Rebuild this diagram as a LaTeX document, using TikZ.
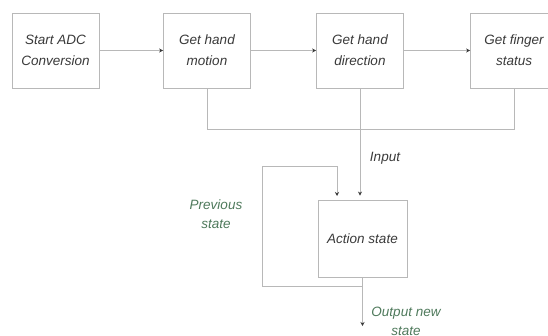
\documentclass[tikz,border=0pt]{standalone}
\usepackage{fontspec}
\setmainfont{Liberation Sans}
\usetikzlibrary{arrows.meta}
\definecolor{txt}{HTML}{3A3A3A}
\definecolor{grn}{HTML}{4F7A5C}
\definecolor{ln}{HTML}{B8B8B8}
\begin{document}
\begin{tikzpicture}[x=1pt,y=-1pt,
  box/.style={draw=ln, line width=0.8pt, minimum width=87pt, minimum height=75pt,
    align=center, font=\fontsize{13.5}{21}\selectfont\itshape, text=txt, inner sep=0pt},
  lbl/.style={align=center, font=\fontsize{13.5}{19}\selectfont\itshape, text=txt, inner sep=0pt},
  glbl/.style={lbl, text=grn},
  wire/.style={draw=ln, line width=0.8pt},
  conn/.style={wire, -{Stealth[length=4pt,width=4pt,color=txt]}}]
\clip (0,0) rectangle (548,335);
\fill[white] (0,0) rectangle (548,335);
\node[box] (b1) at (55.5,50.5) {Start ADC\\Conversion};
\node[box] (b2) at (207,50.5) {Get hand\\motion};
\node[box] (b3) at (360,50.5) {Get hand\\direction};
\node[box] (b4) at (514,50.5) {Get finger\\status};
\node[box, minimum width=89pt, minimum height=77pt] (act) at (362.5,238.5) {Action state};
\coordinate (bus) at (207,129);
\coordinate (lp1) at (262,286);
\coordinate (lp2) at (262,166);
\coordinate (fb) at (337,200);
\coordinate (out) at (362.5,326);
\draw[conn] (b1.east) -- (b2.west);
\draw[conn] (b2.east) -- (b3.west);
\draw[conn] (b3.east) -- (b4.west);
\draw[wire] (b2.south) -- (bus) -- (bus -| b4.south) -- (b4.south);
\draw[conn, shorten >=4pt] (b3.south) -- (b3.south |- act.north);
\draw[conn, shorten >=4pt] (act.south) -- (act.south |- lp1) -- (lp1) -- (lp2) -- (lp2 -| fb) -- (fb);
\draw[conn] (act.south) -- (out);
\node[lbl] (inp) at (385,158) {Input};
\node[glbl] (prev) at (216,214) {Previous\\state};
\node[glbl] (outl) at (406,321) {Output new\\state};
\end{tikzpicture}
\end{document}
